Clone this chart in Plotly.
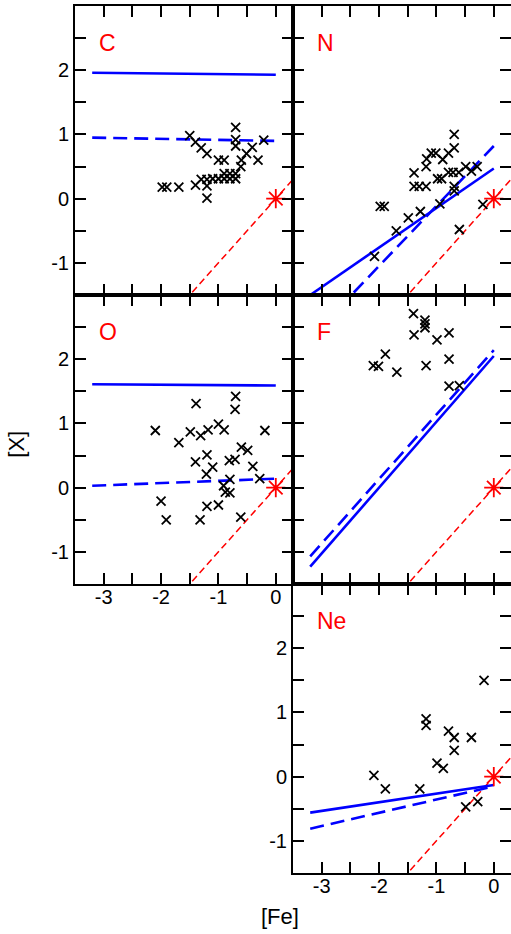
import plotly.graph_objects as go
from plotly.subplots import make_subplots

# ---------------- data ----------------
ELEMENTS = ["C", "N", "O", "F", "Ne"]

C_FE = [-1.98, -1.90, -1.69, -1.50, -1.40, -1.30, -1.20, -1.00, -0.90, -1.40, -1.30,
        -1.20, -1.20, -1.20, -1.10, -1.00, -0.90, -0.90, -0.80, -0.80, -0.70, -0.70,
        -0.70, -0.70, -0.70, -0.61, -0.60, -0.51, -0.41, -0.31, -0.21]
C_X = [0.18, 0.18, 0.18, 0.98, 0.88, 0.79, 0.70, 0.60, 0.60, 0.21, 0.30,
       0.30, 0.20, 0.01, 0.31, 0.31, 0.31, 0.39, 0.39, 0.31, 0.39, 0.31,
       1.11, 0.92, 0.82, 0.50, 0.60, 0.70, 0.80, 0.60, 0.91]

N_FE = [-2.08, -1.98, -1.91, -1.70, -1.49, -1.28, -1.39, -1.39, -1.30, -1.18, -1.18,
        -1.17, -1.09, -1.01, -0.89, -0.79, -0.69, -0.69, -0.98, -0.91, -0.79, -0.71,
        -0.61, -0.69, -0.69, -0.49, -0.39, -0.29, -0.94, -0.60, -0.19]
N_X = [-0.90, -0.12, -0.12, -0.50, -0.30, -0.20, 0.40, 0.19, 0.19, 0.19, 0.50,
       0.62, 0.71, 0.71, 0.61, 0.71, 0.79, 1.00, 0.31, 0.31, 0.41, 0.41,
       0.41, 0.19, 0.12, 0.50, 0.43, 0.50, -0.08, -0.48, -0.09]

O_FE = [-2.10, -1.39, -1.69, -1.49, -1.31, -1.18, -1.00, -0.90, -0.70, -0.71, -0.19,
        -1.40, -1.20, -1.10, -1.21, -0.81, -0.71, -0.60, -0.49, -0.40, -0.80, -0.28,
        -0.91, -0.88, -0.80, -2.00, -1.91, -1.32, -1.20, -1.00, -0.61]
O_X = [0.89, 1.31, 0.70, 0.87, 0.81, 0.90, 0.99, 0.90, 1.42, 1.22, 0.89,
       0.40, 0.51, 0.32, 0.21, 0.42, 0.44, 0.63, 0.58, 0.33, 0.13, 0.14,
       0.03, -0.07, -0.08, -0.21, -0.50, -0.50, -0.29, -0.27, -0.46]

F_FE = [-2.10, -2.01, -1.89, -1.69, -1.40, -1.39, -1.20, -1.20, -1.20, -1.18, -0.99,
        -0.78, -0.78, -0.78, -0.60]
F_X = [1.90, 1.89, 2.08, 1.80, 2.71, 2.38, 2.61, 2.55, 2.49, 1.90, 2.30,
       2.41, 2.00, 1.58, 1.59]

NE_FE = [-2.09, -1.89, -1.29, -1.18, -1.18, -0.99, -0.88, -0.79, -0.69, -0.69, -0.39,
         -0.17, -0.49, -0.28]
NE_X = [0.02, -0.19, -0.19, 0.90, 0.80, 0.21, 0.13, 0.71, 0.61, 0.41, 0.61,
        1.50, -0.47, -0.39]

# model lines: [Fe] end points and [X] values (solid / dashed)
MODEL_FE = [-3.2, 0.0]
C_SOLID = [1.96, 1.93]
C_DASH = [0.95, 0.90]
N_SOLID = [-1.50, 0.47]
N_DASH = [-2.17, 0.82]
O_SOLID = [1.61, 1.59]
O_DASH = [0.03, 0.14]
F_SOLID = [-1.23, 2.05]
F_DASH = [-1.07, 2.14]
NE_SOLID = [-0.56, -0.13]
NE_DASH = [-0.81, -0.15]

# solar reference: [X] = [Fe] line and the Sun
REF_FE = [-3.5, 0.3]
REF_X = [-3.5, 0.3]
SUN_FE = [0.0]
SUN_X = [0.0]

X_TICK_VALS = [-3.5, -3, -2.5, -2, -1.5, -1, -0.5, 0]
X_TICK_TEXT = ["", "-3", "", "-2", "", "-1", "", "0"]
Y_TICK_VALS = [-1.5, -1, -0.5, 0, 0.5, 1, 1.5, 2, 2.5, 3]
Y_TICK_TEXT = ["", "-1", "", "0", "", "1", "", "2", "", ""]
X_RANGE = [-3.5, 0.3]
Y_RANGE = [-1.5, 3.0]

# ---------------- figure ----------------
panels = [
    ("C", C_FE, C_X, C_SOLID, C_DASH, 1, 1),
    ("N", N_FE, N_X, N_SOLID, N_DASH, 1, 2),
    ("O", O_FE, O_X, O_SOLID, O_DASH, 2, 1),
    ("F", F_FE, F_X, F_SOLID, F_DASH, 2, 2),
    ("Ne", NE_FE, NE_X, NE_SOLID, NE_DASH, 3, 2),
]

fig = make_subplots(rows=3, cols=2, horizontal_spacing=0, vertical_spacing=0,
                    specs=[[{}, {}], [{}, {}], [None, {}]])

BLUE = "#0000ff"
RED = "#ff0000"
FONT = "Liberation Sans"

for name, fe, xv, solid, dash, r, c in panels:
    fig.add_trace(go.Scatter(x=REF_FE, y=REF_X, mode="lines",
                             line=dict(color=RED, width=1.5, dash="7px,4px"),
                             showlegend=False, hoverinfo="skip"), row=r, col=c)
    fig.add_trace(go.Scatter(x=MODEL_FE, y=solid, mode="lines",
                             line=dict(color=BLUE, width=2.6),
                             showlegend=False), row=r, col=c)
    fig.add_trace(go.Scatter(x=MODEL_FE, y=dash, mode="lines",
                             line=dict(color=BLUE, width=2.6, dash="14px,7px"),
                             showlegend=False), row=r, col=c)
    fig.add_trace(go.Scatter(x=fe, y=xv, mode="markers",
                             marker=dict(symbol="x-thin-open", size=9, color="black",
                                         line=dict(color="black", width=1.8)),
                             showlegend=False), row=r, col=c)
    fig.add_trace(go.Scatter(x=SUN_FE, y=SUN_X, mode="markers",
                             marker=dict(symbol="asterisk-open", size=16, color=RED,
                                         line=dict(color=RED, width=1.8)),
                             showlegend=False), row=r, col=c)
    fig.add_annotation(text=name, x=-3.12, y=2.42, xanchor="left", yanchor="middle",
                       showarrow=False, font=dict(color=RED, size=23, family=FONT),
                       row=r, col=c)

show_y = {(1, 1), (2, 1), (3, 2)}
show_x = {(2, 1), (3, 2)}
axis_common = dict(showline=True, linecolor="black", linewidth=2, mirror="ticks",
                   ticks="inside", ticklen=11, tickwidth=1.8, tickcolor="black",
                   showgrid=False, zeroline=False, automargin=False,
                   tickfont=dict(family=FONT, size=20, color="black"))
for name, fe, xv, solid, dash, r, c in panels:
    fig.update_xaxes(range=X_RANGE, tickmode="array", tickvals=X_TICK_VALS,
                     ticktext=X_TICK_TEXT, showticklabels=(r, c) in show_x,
                     ticklabelstandoff=-6, row=r, col=c, **axis_common)
    fig.update_yaxes(range=Y_RANGE, tickmode="array", tickvals=Y_TICK_VALS,
                     ticktext=Y_TICK_TEXT, showticklabels=(r, c) in show_y,
                     row=r, col=c, **axis_common)

fig.add_annotation(text="[X]", xref="paper", yref="paper", x=-0.133, y=0.494,
                   xanchor="center", yanchor="middle",
                   textangle=-90, showarrow=False,
                   font=dict(family=FONT, size=22, color="black"))
fig.add_annotation(text="[Fe]", xref="paper", yref="paper", x=0.47, y=-0.0507,
                   xanchor="center", yanchor="middle", showarrow=False,
                   font=dict(family=FONT, size=22, color="black"))

fig.update_layout(width=511, height=934, margin=dict(l=75, r=0, t=6, b=61),
                  plot_bgcolor="white", paper_bgcolor="white", showlegend=False)

fig.write_html("out.html", config={"displayModeBar": False},
               post_script="document.body.style.margin='0';"
                           "document.body.style.overflow='hidden';")
